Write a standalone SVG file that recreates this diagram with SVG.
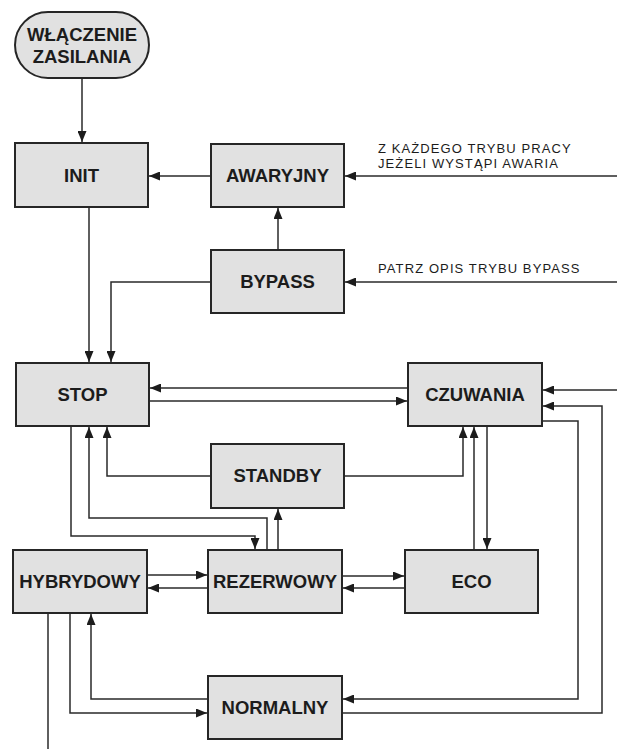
<svg xmlns="http://www.w3.org/2000/svg" width="617" height="749" viewBox="0 0 617 749">
<style>
.box{fill:#e1e1e1;stroke:#262626;stroke-width:2}
.lbl{font-family:"Liberation Sans",Arial,sans-serif;font-weight:bold;font-size:18.5px;fill:#1c1c1c;text-anchor:middle}
.note{font-family:"Liberation Sans",Arial,sans-serif;font-size:13px;letter-spacing:1.1px;fill:#1c1c1c}
.c{fill:none;stroke:#2a2a2a;stroke-width:1.5;marker-end:url(#ah)}
.n{fill:none;stroke:#2a2a2a;stroke-width:1.5}
</style>
<defs>
<marker id="ah" markerUnits="userSpaceOnUse" markerWidth="11" markerHeight="9" refX="11" refY="4.5" orient="auto">
<path d="M0,0 L11,4.5 L0,9 z" fill="#1c1c1c"/>
</marker>
</defs>
<rect width="617" height="749" fill="#fff"/>
<g id="connectors">
<path class="c" d="M82,78 V142"/>
<path class="c" d="M211,176 H149"/>
<path class="c" d="M617,176 H345"/>
<path class="c" d="M278,250 V208"/>
<path class="c" d="M617,282 H345"/>
<path class="c" d="M89,207 V362"/>
<path class="c" d="M211,282 H111 V362"/>
<path class="c" d="M408,388 H150"/>
<path class="c" d="M149,401 H407"/>
<path class="c" d="M71,426 V536 H255 V549"/>
<path class="c" d="M267,550 V518 H89 V427"/>
<path class="c" d="M211,476 H107 V427"/>
<path class="c" d="M278,550 V509"/>
<path class="c" d="M344,476 H463 V427"/>
<path class="c" d="M474,550 V427"/>
<path class="c" d="M487,426 V549"/>
<path class="c" d="M617,390 H543"/>
<path class="c" d="M342,713 H602 V406 H543"/>
<path class="c" d="M542,421 H578 V699 H343"/>
<path class="c" d="M147,575 H207"/>
<path class="c" d="M208,588 H148"/>
<path class="c" d="M342,576 H404"/>
<path class="c" d="M405,588 H343"/>
<path class="n" d="M48,613 V749"/>
<path class="c" d="M70,613 V713 H207"/>
<path class="c" d="M208,699 H91 V614"/>
</g>
<g id="start">
<rect class="box" x="15" y="12" width="134" height="66" rx="33" ry="33"/>
<text class="lbl" x="82" y="41">WŁĄCZENIE</text>
<text class="lbl" x="82" y="63">ZASILANIA</text>
</g>
<g id="init">
<rect class="box" x="15" y="143" width="133" height="64"/>
<text class="lbl" x="81.5" y="181.5">INIT</text>
</g>
<g id="awaryjny">
<rect class="box" x="211" y="144" width="133" height="63"/>
<text class="lbl" x="277.5" y="182">AWARYJNY</text>
</g>
<g id="bypass">
<rect class="box" x="211" y="250" width="133" height="63"/>
<text class="lbl" x="277.5" y="288">BYPASS</text>
</g>
<g id="stop">
<rect class="box" x="16" y="363" width="133" height="63"/>
<text class="lbl" x="82.5" y="401">STOP</text>
</g>
<g id="czuwania">
<rect class="box" x="408" y="363" width="134" height="63"/>
<text class="lbl" x="475" y="401">CZUWANIA</text>
</g>
<g id="standby">
<rect class="box" x="211" y="444" width="133" height="64"/>
<text class="lbl" x="277.5" y="482">STANDBY</text>
</g>
<g id="hybrydowy">
<rect class="box" x="13" y="550" width="134" height="63"/>
<text class="lbl" x="80" y="588">HYBRYDOWY</text>
</g>
<g id="rezerwowy">
<rect class="box" x="208" y="550" width="134" height="63"/>
<text class="lbl" x="275" y="588">REZERWOWY</text>
</g>
<g id="eco">
<rect class="box" x="405" y="550" width="133" height="63"/>
<text class="lbl" x="471.5" y="588">ECO</text>
</g>
<g id="normalny">
<rect class="box" x="208" y="676" width="134" height="63"/>
<text class="lbl" x="275" y="714">NORMALNY</text>
</g>
<g id="notes">
<text class="note" x="378" y="153">Z KAŻDEGO TRYBU PRACY</text>
<text class="note" x="378" y="168">JEŻELI WYSTĄPI AWARIA</text>
<text class="note" x="378" y="273">PATRZ OPIS TRYBU BYPASS</text>
</g>
</svg>
